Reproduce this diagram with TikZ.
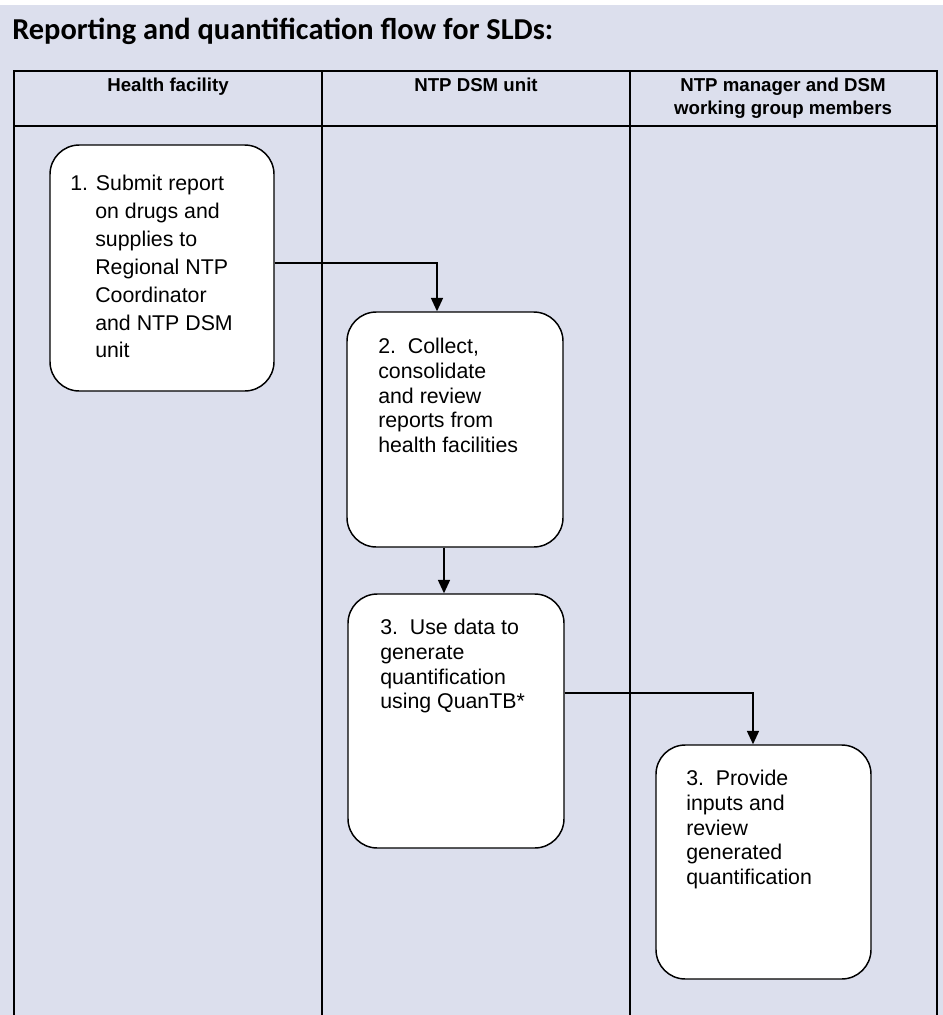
\documentclass[tikz,border=0pt]{standalone}
\usepackage{fontspec}
\setmainfont{Liberation Sans}
\newfontfamily\titlefont{Carlito}
\usetikzlibrary{arrows.meta}
\definecolor{lanebg}{RGB}{220,223,237}

\tikzset{
  stepbox/.style={draw, fill=white, line width=1.1pt, rounded corners=22pt, inner sep=0pt},
  steptext/.style={anchor=north west, inner sep=0pt, align=left, font=\fontsize{16}{18.5}\selectfont},
  lanehead/.style={anchor=north, inner sep=0pt, align=center, font=\bfseries\fontsize{14}{17.25}\selectfont},
  laneline/.style={line width=1.5pt},
  flow/.style={line width=1.1pt, -{Triangle[length=10pt,width=9pt]}}
}

\begin{document}
\begin{tikzpicture}[x=0.75pt,y=0.75pt,yscale=-1,xscale=1]
\useasboundingbox (0,0) rectangle (943,1015);
%Background
\fill[lanebg] (0,5) rectangle (943,1015);
%Title
\node[anchor=west, inner sep=0pt, font=\titlefont\bfseries\fontsize{22.8}{26}\selectfont] (title) at (12,31) {Reporting and quantification flow for SLDs:};

%Swim lanes
\draw[laneline] (14,1015) -- (14,71) -- (937,71) -- (937,1015);
\draw[laneline] (14,126) -- (937,126);
\draw[laneline] (322,71) -- (322,1015);
\draw[laneline] (630,71) -- (630,1015);
\node[lanehead] (hf) at (168,78) {Health facility};
\node[lanehead] (dsm) at (476,78) {NTP DSM unit};
\node[lanehead] (mgr) at (783,78) {NTP manager and DSM\\working group members};

%Steps
\node[stepbox, minimum width=168pt, minimum height=184.5pt] (b1) at (162,268) {};
\node[stepbox, minimum width=162pt, minimum height=176.25pt] (b2) at (455,429.5) {};
\node[stepbox, minimum width=162pt, minimum height=190.5pt] (b3) at (456,721) {};
\node[stepbox, minimum width=161.25pt, minimum height=175.5pt] (b4) at (763.5,862) {};

% Text Node
\node[steptext, font=\fontsize{16}{20.9}\selectfont] (t1) at (70,175) {1. Submit report\\\hspace*{18.75pt}on drugs and\\\hspace*{18.75pt}supplies to\\\hspace*{18.75pt}Regional NTP\\\hspace*{18.75pt}Coordinator\\\hspace*{18.75pt}and NTP DSM\\\hspace*{18.75pt}unit};
\node[steptext] (t2) at (378,338) {2.\ \ Collect,\\consolidate\\and review\\reports from\\health facilities};
\node[steptext] (t3) at (380,619) {3.\ \ Use data to\\generate\\quantification\\using QuanTB*};
\node[steptext] (t4) at (686,770) {3.\ \ Provide\\inputs and\\review\\generated\\quantification};

%Connectors
\draw[flow] (b1.east |- 0,263) -| (b2.north -| 437,0);
\draw[flow] (b2.south -| 444,0) -- (b3.north -| 444,0);
\draw[flow] (b3.east |- 0,693) -| (b4.north -| 753,0);

\end{tikzpicture}
\end{document}
